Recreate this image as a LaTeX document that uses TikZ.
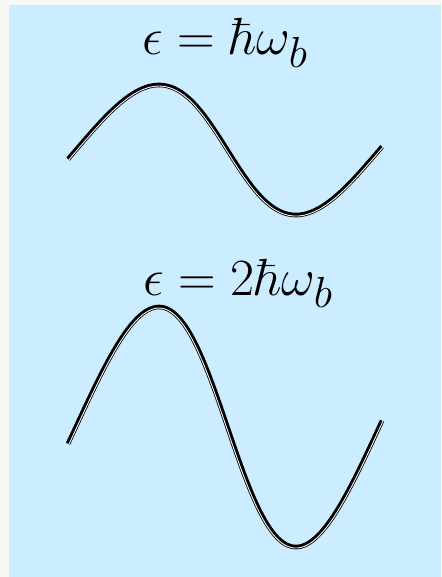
\documentclass[tikz,border=0pt]{standalone}
\definecolor{bgblue}{RGB}{204,236,255}
\definecolor{outergray}{RGB}{248,248,248}
\begin{document}
\begin{tikzpicture}[x=1pt,y=-1pt,
  declare function={
    wdx(\vt)=0.8426+0.1279*cos(\vt);
    wlen(\vt,\vA)=sqrt(wdx(\vt)^2+(\vA*0.017453*cos(\vt))^2);
    wx(\vt,\vA,\vD)=75.8+0.8426*\vt+7.33*sin(\vt)+\vD*\vA*0.017453*cos(\vt)/wlen(\vt,\vA);
    wy(\vt,\vC,\vA,\vD)=\vC-\vA*sin(\vt)+\vD*wdx(\vt)/wlen(\vt,\vA);
  },
  band/.style={line width=4.6pt, black, line join=round},
  gap/.style={line width=0.85pt, white, line join=round},
  label/.style={anchor=base west, inner sep=0pt, font=\Huge, scale=2.1}]
\useasboundingbox (0,0) rectangle (441,577);
\fill[outergray] (0,0) rectangle (441,577);
\fill[bgblue] (9,5) rectangle (441,577);
% labels
\node[label] (e1) at (142,55) {$\epsilon = \hbar\omega_b$};
\node[label] (e2) at (143,295) {$\epsilon = 2\hbar\omega_b$};
% wave 1
\draw[band] plot[domain=-8:363, samples=240, variable=\vt] ({wx(\vt,65,0)},{wy(\vt,150,65,0)});
\draw[gap] plot[domain=-8:363, samples=240, variable=\vt] ({wx(\vt,65,1.05)},{wy(\vt,150,65,1.05)});
% wave 2
\draw[band] plot[domain=-8:363, samples=240, variable=\vt] ({wx(\vt,120,0)},{wy(\vt,427,120,0)});
\draw[gap] plot[domain=-8:363, samples=240, variable=\vt] ({wx(\vt,120,1.05)},{wy(\vt,427,120,1.05)});
\end{tikzpicture}
\end{document}
